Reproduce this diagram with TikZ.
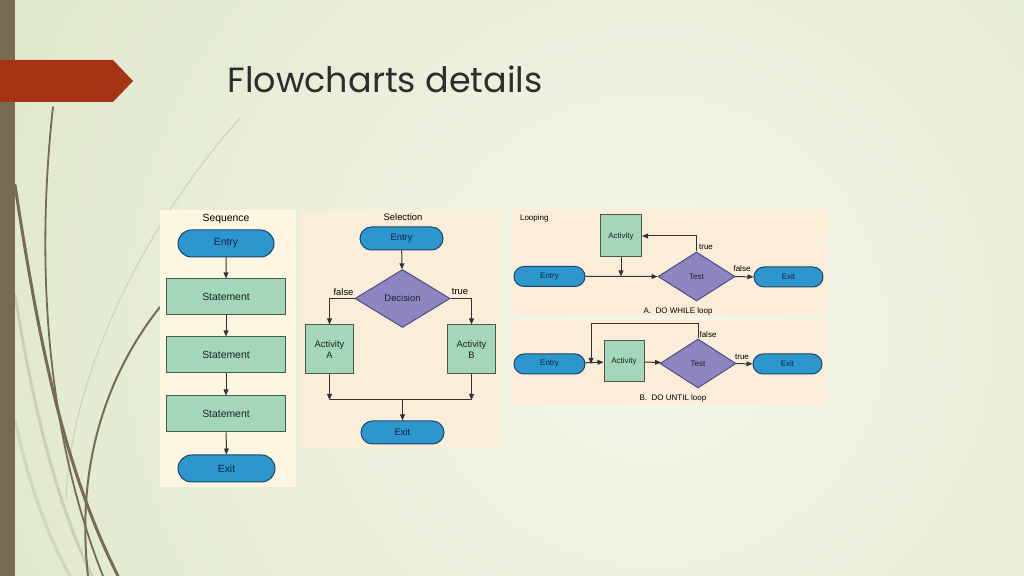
\documentclass[tikz,border=0pt]{standalone}
\usepackage{fontspec}
\setmainfont{Liberation Sans}
\newfontfamily\titlefont{Poppins}
\usetikzlibrary{shapes.geometric,shapes.misc,arrows.meta}

\begin{document}
\begin{tikzpicture}[x=0.5pt, y=-0.5pt,
    termbox/.style={rounded rectangle, draw=termdraw, fill=termfill, text=termtext, inner sep=0pt, line width=0.5pt},
    actbox/.style={rectangle, draw=actdraw, fill=actfill, text=boxtext, inner sep=0pt, align=center, line width=0.5pt},
    decbox/.style={diamond, draw=decdraw, fill=decfill, text=boxtext, inner sep=0pt, line width=0.5pt},
    flowline/.style={draw=linecol, line width=0.5pt},
    flowarrow/.style={flowline, -{Triangle[length=3pt,width=2.4pt]}},
    wisp/.style={draw=barcol, line cap=round}]
    % Define colors
    \definecolor{bgdark}{RGB}{219,229,197}
    \definecolor{bglight}{RGB}{244,246,234}
    \definecolor{barcol}{RGB}{118,108,84}
    \definecolor{bannercol}{RGB}{168,50,22}
    \definecolor{titlecol}{RGB}{45,45,45}
    \definecolor{seqpanel}{RGB}{254,246,224}
    \definecolor{selpanel}{RGB}{250,238,216}
    \definecolor{looppanel}{RGB}{251,237,216}
    \definecolor{termfill}{RGB}{45,150,205}
    \definecolor{termdraw}{RGB}{25,70,110}
    \definecolor{termtext}{RGB}{15,35,75}
    \definecolor{actfill}{RGB}{163,214,187}
    \definecolor{actdraw}{RGB}{70,90,80}
    \definecolor{decfill}{RGB}{141,134,192}
    \definecolor{decdraw}{RGB}{80,75,130}
    \definecolor{boxtext}{RGB}{25,35,35}
    \definecolor{linecol}{RGB}{50,50,50}

    \useasboundingbox (0,0) rectangle (1024,576);

    % Slide background
    \begin{scope}
      \clip (0,0) rectangle (1024,576);
      \shade[inner color=bglight, outer color=bgdark] (-250,-570) rectangle (1550,1230);
    \end{scope}

    % Wisps in the lower left corner
    \draw[wisp, opacity=0.2, line width=1.5pt] (15,295) .. controls (35,420) and (60,510) .. (92,576);
    \draw[wisp, opacity=0.15, line width=1.5pt] (15,420) .. controls (30,490) and (50,540) .. (70,576);
    \draw[wisp, opacity=0.2, line width=0.5pt] (240,118) .. controls (140,230) and (70,380) .. (66,500);
    \draw[wisp, line width=0.9pt] (53,107) .. controls (36,260) and (45,430) .. (103,576);
    \draw[wisp, line width=1.5pt] (15,185) .. controls (40,350) and (65,470) .. (118,576);
    \draw[wisp, line width=1pt] (160,307) .. controls (110,370) and (75,460) .. (88,576);

    % Left bar and title banner
    \fill[barcol] (0,0) rectangle (15,576);
    \fill[bannercol] (0,60) -- (113,60) -- (133,81) -- (113,102) -- (0,102) -- cycle;
    \node[anchor=base west, text=titlecol, inner sep=0pt] (title) at (227,93)
      {\titlefont\fontsize{17.5}{21}\selectfont Flowcharts details};

    % Panels
    \fill[seqpanel] (160,210) rectangle (296,487);
    \fill[selpanel] (300,210) rectangle (501,449);
    \fill[looppanel] (511,209) rectangle (827,316);
    \fill[looppanel] (511,320) rectangle (827,404);

    % Sequence
    \begin{scope}[font=\fontsize{5.2}{6}\selectfont]
      \node (seqtitle) at (226,219) {Sequence};
      \node[termbox, minimum width=48pt, minimum height=13.5pt] (seqentry) at (226,243.5) {Entry};
      \node[actbox, minimum width=59.5pt, minimum height=18pt] (seqstmtA) at (226,297) {Statement};
      \node[actbox, minimum width=59.5pt, minimum height=18pt] (seqstmtB) at (226,355) {Statement};
      \node[actbox, minimum width=59.5pt, minimum height=18pt] (seqstmtC) at (226,414) {Statement};
      \node[termbox, minimum width=48.5pt, minimum height=13.5pt] (seqexit) at (226.5,468.5) {Exit};
      \draw[flowarrow] (seqentry) -- (seqstmtA);
      \draw[flowarrow] (seqstmtA) -- (seqstmtB);
      \draw[flowarrow] (seqstmtB) -- (seqstmtC);
      \draw[flowarrow] (seqstmtC) -- (seqexit);
    \end{scope}

    % Selection
    \begin{scope}[font=\fontsize{4.7}{5.4}\selectfont]
      \node (seltitle) at (403,217) {Selection};
      \node[termbox, minimum width=41.5pt, minimum height=11.5pt] (selentry) at (401.5,238.5) {Entry};
      \node[decbox, minimum width=47.5pt, minimum height=29pt] (seldec) at (402.5,298.5) {Decision};
      \node[actbox, minimum width=24pt, minimum height=24.5pt] (selactA) at (329.5,349.5) {Activity\\A};
      \node[actbox, minimum width=24pt, minimum height=24.5pt] (selactB) at (471.5,349.5) {Activity\\B};
      \node[termbox, minimum width=41.5pt, minimum height=11.5pt] (selexit) at (402.5,432.5) {Exit};
      \node (selfalse) at (343.5,292) {false};
      \node (seltrue) at (460,292) {true};
      \coordinate (seljoinA) at (329.5,400);
      \coordinate (seljoinB) at (471.5,400);
      \coordinate (seljoin) at (402.5,400);
      \draw[flowarrow] (selentry) -- (seldec);
      \draw[flowarrow] (seldec.west) -| (selactA.north);
      \draw[flowarrow] (seldec.east) -| (selactB.north);
      \draw[flowarrow] (selactA.south) -- (seljoinA);
      \draw[flowarrow] (selactB.south) -- (seljoinB);
      \draw[flowline] (seljoinA) -- (seljoinB);
      \draw[flowarrow] (seljoin) -- (selexit.north);
    \end{scope}

    % Looping, A: DO WHILE
    \begin{scope}[font=\fontsize{4}{4.8}\selectfont]
      \node[anchor=west] (looptitle) at (513,218) {Looping};
      \node[actbox, minimum width=20.5pt, minimum height=21pt] (whact) at (621,236) {Activity};
      \node[termbox, minimum width=35.5pt, minimum height=10pt] (whentry) at (549.5,276.5) {Entry};
      \node[decbox, minimum width=38.5pt, minimum height=24.5pt] (whtest) at (696.5,276.5) {Test};
      \node[termbox, minimum width=34.5pt, minimum height=10pt] (whexit) at (788.5,277) {Exit};
      \node (whtrue) at (706,247) {true};
      \node (whfalse) at (742,269) {false};
      \node (whcap) at (678,311) {A.\ \ DO WHILE loop};
      \draw[flowarrow] (whentry) -- (whtest);
      \draw[flowarrow] (whact.south) -- (whact.south |- whentry.east);
      \draw[flowarrow] (whtest.north) |- (whact.east);
      \draw[flowarrow] (whtest) -- (whexit);
    \end{scope}

    % Looping, B: DO UNTIL
    \begin{scope}[font=\fontsize{4}{4.8}\selectfont]
      \node[termbox, minimum width=35.5pt, minimum height=10pt] (unentry) at (549.5,364) {Entry};
      \node[actbox, minimum width=20pt, minimum height=20.5pt] (unact) at (624,361.5) {Activity};
      \node[decbox, minimum width=38pt, minimum height=24.5pt] (untest) at (698,363.5) {Test};
      \node[termbox, minimum width=34.5pt, minimum height=10pt] (unexit) at (787.5,364) {Exit};
      \node (unfalse) at (708,335) {false};
      \node (untrue) at (742,357) {true};
      \node (uncap) at (673,398) {B.\ \ DO UNTIL loop};
      \coordinate (untop) at (591,324);
      \coordinate (unback) at (591,364);
      \draw[flowarrow] (unentry) -- (unact);
      \draw[flowarrow] (unact) -- (untest);
      \draw[flowarrow] (untest) -- (unexit);
      \draw[flowline] (untest.north) |- (untop);
      \draw[flowarrow] (untop) -- (unback);
    \end{scope}
  \end{tikzpicture}
\end{document}
